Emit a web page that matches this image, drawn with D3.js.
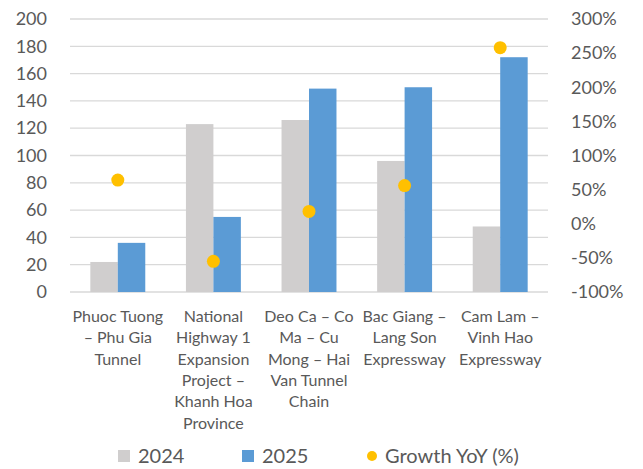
<!DOCTYPE html>
<html>
<head>
<meta charset="utf-8">
<script src="https://cdn.jsdelivr.net/npm/d3@7"></script>
<style>
  html, body { margin: 0; padding: 0; background: #fff; }
  svg text { font-family: Lato, "Open Sans", sans-serif; fill: #595959; }
</style>
</head>
<body>
<div id="chart"></div>
<script>
// --- data ---
const categories = [
  'Phuoc Tuong\n– Phu Gia\nTunnel',
  'National\nHighway 1\nExpansion\nProject –\nKhanh Hoa\nProvince',
  'Deo Ca – Co\nMa – Cu\nMong – Hai\nVan Tunnel\nChain',
  'Bac Giang –\nLang Son\nExpressway',
  'Cam Lam –\nVinh Hao\nExpressway'
];
const values2024 = [22, 123, 126, 96, 48];
const values2025 = [36, 55, 149, 150, 172];
const growthYoY = [64, -55, 18, 56, 258];
const leftTicks = [0, 20, 40, 60, 80, 100, 120, 140, 160, 180, 200];
const rightTicks = [-100, -50, 0, 50, 100, 150, 200, 250, 300];
const seriesNames = ['2024', '2025', 'Growth YoY (%)'];

const W = 643, H = 469;
const margin = { top: 19, right: 95, bottom: 177, left: 70 };
const width = W - margin.left - margin.right;
const height = H - margin.top - margin.bottom;

const svg = d3.select('#chart').append('svg')
  .attr('width', W)
  .attr('height', H);
const g = svg.append('g').attr('transform', `translate(${margin.left},${margin.top})`);

const x = d3.scaleBand().domain(d3.range(categories.length)).range([0, width]).paddingInner(0).paddingOuter(0);
const inner = d3.scaleBand().domain(['2024', '2025']).range([0, x.bandwidth()]).paddingInner(0).paddingOuter(0.74);
const yLeft = d3.scaleLinear().domain([0, 200]).range([height, 0]);
const yRight = d3.scaleLinear().domain([-100, 300]).range([height, 0]);

// gridlines
g.selectAll('line.grid')
  .data(leftTicks)
  .enter().append('line')
  .attr('x1', 0).attr('x2', width)
  .attr('y1', d => yLeft(d)).attr('y2', d => yLeft(d))
  .attr('stroke', '#d9d9d9')
  .attr('stroke-width', 1.3);

// left axis labels
const leftAxis = g.append('g')
  .call(d3.axisLeft(yLeft).tickValues(leftTicks).tickSize(0).tickPadding(23));
leftAxis.select('.domain').remove();
leftAxis.selectAll('text').style('font-size', '18px').attr('fill', '#595959');

// right axis labels
const rightAxis = g.append('g')
  .attr('transform', `translate(${width},0)`)
  .call(d3.axisRight(yRight).tickValues(rightTicks).tickSize(0).tickPadding(23).tickFormat(d => d + '%'));
rightAxis.select('.domain').remove();
rightAxis.selectAll('text').style('font-size', '18px').attr('fill', '#595959');

// bars
const colors = { '2024': '#d0cece', '2025': '#5b9bd5' };
const groups = g.selectAll('g.cat')
  .data(categories.map((c, i) => ({ i, v: [ { k: '2024', v: values2024[i] }, { k: '2025', v: values2025[i] } ] })))
  .enter().append('g')
  .attr('transform', d => `translate(${x(d.i)},0)`);
groups.selectAll('rect')
  .data(d => d.v)
  .enter().append('rect')
  .attr('x', d => inner(d.k))
  .attr('width', inner.bandwidth())
  .attr('y', d => yLeft(d.v))
  .attr('height', d => yLeft(0) - yLeft(d.v))
  .attr('fill', d => colors[d.k]);

// growth dots
g.selectAll('circle.growth')
  .data(growthYoY)
  .enter().append('circle')
  .attr('cx', (d, i) => x(i) + x.bandwidth() / 2)
  .attr('cy', d => yRight(d))
  .attr('r', 6.5)
  .attr('fill', '#ffc000');

// category labels
categories.forEach((c, i) => {
  const t = g.append('text')
    .attr('text-anchor', 'middle')
    .attr('x', x(i) + x.bandwidth() / 2)
    .attr('y', height + 30)
    .style('font-size', '16px');
  c.split('\n').forEach((line, j) => {
    t.append('tspan')
      .attr('x', x(i) + x.bandwidth() / 2)
      .attr('dy', j === 0 ? 0 : 21.3)
      .text(line);
  });
});

// legend
const legend = svg.append('g').attr('transform', 'translate(0,456)');
const legendItems = [
  { name: seriesNames[0], color: colors['2024'], type: 'rect', x: 118 },
  { name: seriesNames[1], color: colors['2025'], type: 'rect', x: 242 },
  { name: seriesNames[2], color: '#ffc000', type: 'circle', x: 367 }
];
legendItems.forEach(it => {
  if (it.type === 'rect') {
    legend.append('rect').attr('x', it.x).attr('y', -6).attr('width', 12).attr('height', 12).attr('fill', it.color);
  } else {
    legend.append('circle').attr('cx', it.x + 5).attr('cy', 0).attr('r', 5).attr('fill', it.color);
  }
  legend.append('text')
    .attr('x', it.type === 'rect' ? it.x + 20 : it.x + 18)
    .attr('y', 0)
    .attr('dy', '0.35em')
    .style('font-size', '20px')
    .text(it.name);
});
</script>
</body>
</html>
